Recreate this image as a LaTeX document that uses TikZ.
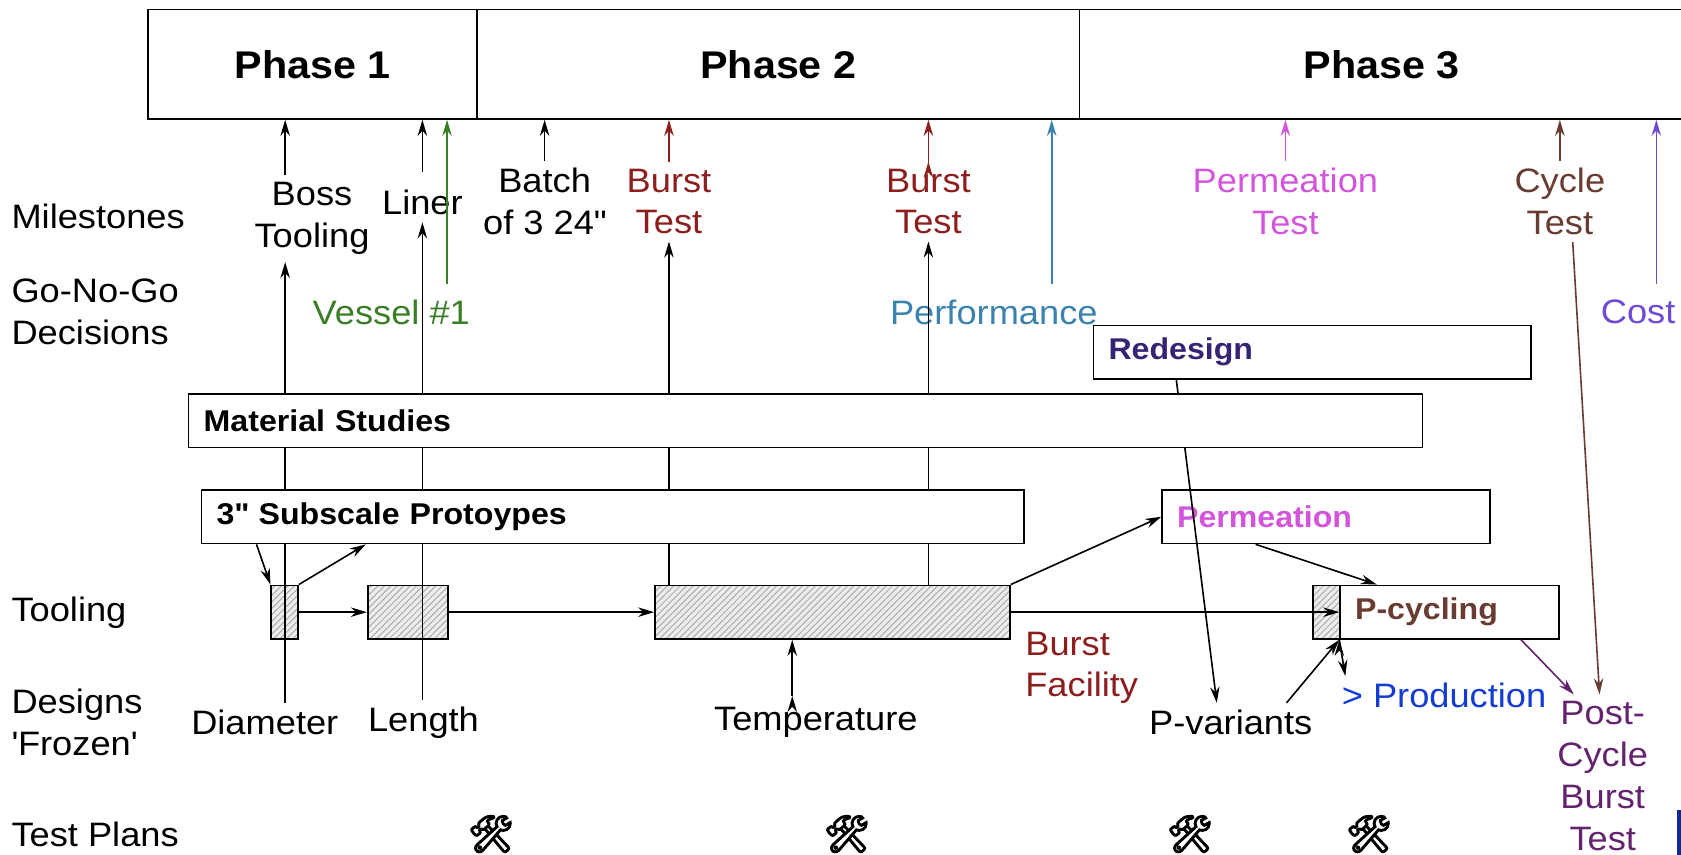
\documentclass[tikz,border=0pt]{standalone}
\usepackage{fontspec}
\setmainfont[FakeStretch=1.07]{Liberation Sans}
\newfontfamily\emojifont[FakeBold=4]{Noto Emoji}
\usepackage{tikz}
\usetikzlibrary{arrows.meta,patterns}

\definecolor{burstred}{RGB}{140,30,30}
\definecolor{vesselgreen}{RGB}{60,125,40}
\definecolor{perfblue}{RGB}{60,130,175}
\definecolor{permmag}{RGB}{210,85,220}
\definecolor{cyclebrown}{RGB}{105,60,50}
\definecolor{costpurple}{RGB}{110,75,215}
\definecolor{redesignblue}{RGB}{55,35,115}
\definecolor{prodblue}{RGB}{20,60,210}
\definecolor{postpurple}{RGB}{100,35,110}

\begin{document}
\begin{tikzpicture}[x=0.5pt, y=-0.5pt, line width=0.75pt,
    lbl/.style={inner sep=3pt, align=center, font=\fontsize{15.8}{19.5}\selectfont},
    rowlbl/.style={lbl, anchor=west, align=left, inner sep=0pt},
    phase/.style={draw, minimum height=51pt, inner sep=0pt, font=\bfseries\fontsize{18}{21}\selectfont},
    taskbox/.style={draw, fill=white, minimum height=25pt, inner xsep=7pt, inner ysep=0pt, align=left, font=\bfseries\fontsize{14}{16}\selectfont},
    hatch/.style={draw, preaction={fill=gray!15}, pattern=north east lines, pattern color=gray!70, minimum height=25pt, inner sep=0pt},
    tool/.style={font=\emojifont\fontsize{17}{17}\selectfont},
    arr/.style={-{Stealth[length=7.5pt,width=4.4pt]}}]
    \useasboundingbox (0, 0) rectangle (1568, 797);
    \clip (0, 0) rectangle (1568, 797);

    \node[phase, minimum width=153.5pt] at (291.5, 60) (ph1) {Phase 1};
    \node[phase, minimum width=281pt] at (726, 60) (ph2) {Phase 2};
    \node[phase, minimum width=282pt] at (1289, 60) (ph3) {Phase 3};

    \node[rowlbl] at (10, 202) (rmile) {Milestones};
    \node[rowlbl] at (10, 291) (rgo) {Go-No-Go\\Decisions};
    \node[rowlbl] at (10, 572) (rtool) {Tooling};
    \node[rowlbl] at (10, 674) (rdes) {Designs\\\textquotesingle Frozen\textquotesingle};
    \node[rowlbl] at (10, 778) (rplan) {Test Plans};

    \node[hatch, minimum width=12.5pt] at (265.5, 571) (t1) {};
    \node[hatch, minimum width=37.5pt] at (380.5, 571) (t2) {};
    \node[hatch, minimum width=165.5pt] at (776.5, 571) (tb) {};
    \node[hatch, minimum width=12.5pt] at (1237.5, 571) (t3) {};

    \node[lbl] at (291, 204) (boss) {Boss\\Tooling};
    \node[lbl] at (394, 189) (liner) {Liner};
    \node[lbl] at (508, 188) (batch) {Batch\\of 3 24\textquotedbl};
    \node[lbl, text=burstred] at (624, 188) (burst1) {Burst\\Test};
    \node[lbl, text=burstred] at (866, 188) (burst2) {Burst\\Test};
    \node[lbl, text=permmag] at (1199, 188) (permt) {Permeation\\Test};
    \node[lbl, text=cyclebrown] at (1455, 188) (cyc) {Cycle\\Test};
    \node[lbl, text=vesselgreen] at (365, 291) (vessel) {Vessel \#1};
    \node[lbl, text=perfblue] at (927, 291) (perf) {Performance};
    \node[lbl, text=costpurple] at (1528, 291) (cost) {Cost};

    \node[lbl] at (247, 674) (diam) {Diameter};
    \node[lbl] at (395, 674) (len) {Length};
    \node[lbl] at (761, 674) (temp) {Temperature};
    \node[lbl] at (1148, 674) (pvar) {P-variants};
    \node[lbl, text=burstred, align=left] at (1009, 623) (bfac) {Burst\\Facility};
    \node[lbl, text=prodblue] at (1347, 649) (prod) {> Production};
    \node[lbl, text=postpurple] at (1495, 724) (post) {Post-\\Cycle\\Burst\\Test};

    \node[tool] at (458, 778) (tp1) {\symbol{"1F6E0}};
    \node[tool] at (790, 778) (tp2) {\symbol{"1F6E0}};
    \node[tool] at (1110, 778) (tp3) {\symbol{"1F6E0}};
    \node[tool] at (1277, 778) (tp4) {\symbol{"1F6E0}};

    \draw[arr]
    ([xshift=-12.5pt]boss.north) edge ([xshift=-12.5pt]boss.north |- ph1.south)
    ([yshift=5pt]liner.north) edge (liner.north |- ph1.south)
    (batch.north) edge (batch.north |- ph2.south)
    ([xshift=9.5pt]diam.north) edge ([xshift=9.5pt]diam.north |- boss.south)
    ([xshift=-0.5pt]len.north) edge ([xshift=-0.5pt]len.north |- liner.south)
    (burst1.south |- tb.north) edge (burst1.south)
    (burst2.south |- tb.north) edge (burst2.south)
    ([xshift=-11pt,yshift=2pt]temp.north) edge ([xshift=-11pt]temp.north |- tb.south);
    \draw[arr, burstred]
    (burst1.north) edge (burst1.north |- ph2.south)
    (burst2.north) edge (burst2.north |- ph2.south);
    \draw[arr, vesselgreen] ([xshift=26pt,yshift=4pt]vessel.north) -- ([xshift=26pt]vessel.north |- ph1.south);
    \draw[arr, perfblue] ([xshift=27pt,yshift=4pt]perf.north) -- ([xshift=27pt]perf.north |- ph2.south);
    \draw[arr, permmag] (permt.north) -- (permt.north |- ph3.south);
    \draw[arr, cyclebrown] (cyc.north) -- (cyc.north |- ph3.south);
    \draw[arr, costpurple] ([xshift=8.5pt,yshift=4pt]cost.north) -- ([xshift=8.5pt]cost.north |- ph3.south);

    \node[taskbox, text width=139pt] at (1237, 482) (perm) {\textcolor{permmag}{Permeation}};
    \node[taskbox, text width=190pt] at (1224, 328.5) (rd) {\textcolor{redesignblue}{Redesign}};
    \draw[arr] ([xshift=39pt]rd.south west) -- ([xshift=-6.5pt]pvar.north);

    \node[taskbox, text width=561.5pt] at (751.5, 392.5) (mat) {Material Studies};
    \node[taskbox, text width=369.5pt] at (571.5, 482) (sub) {3\textquotedbl\ Subscale Protoypes};
    \node[taskbox, text width=88pt] at (1352, 571) (pc) {\textcolor{cyclebrown}{P-cycling}};

    \draw[arr]
    ([xshift=26pt]sub.south west) edge (t1.north west)
    (t1.north east) edge ([xshift=77pt]sub.south west)
    (t1.east) edge (t2.west)
    (t2.east) edge (tb.west)
    (tb.east) edge (pc.west)
    (tb.north east) edge (perm.west)
    ([xshift=44pt]perm.south west) edge ([xshift=17.5pt]pc.north west)
    ([xshift=26pt]pvar.north) edge (pc.south west)
    (pc.south west) edge ([xshift=5pt]prod.north west);
    \draw[arr, postpurple] ([xshift=-18pt]pc.south east) -- ([xshift=-13.5pt]post.north);
    \draw[arr, cyclebrown] ([xshift=6pt]cyc.south) -- ([xshift=-1.5pt]post.north);

    \fill[prodblue!70!black] (1564, 756) rectangle (1570, 800);
\end{tikzpicture}
\end{document}
